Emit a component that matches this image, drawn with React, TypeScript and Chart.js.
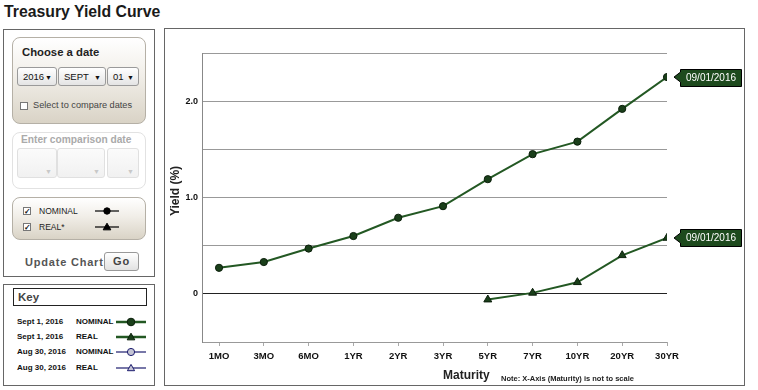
import React, { useEffect, useRef } from "react";
import { Chart, registerables } from "chart.js";

Chart.register(...registerables);

const MATURITIES = ["1MO", "3MO", "6MO", "1YR", "2YR", "3YR", "5YR", "7YR", "10YR", "20YR", "30YR"];
const NOMINAL_YIELDS: (number | null)[] = [0.27, 0.33, 0.47, 0.6, 0.79, 0.91, 1.19, 1.45, 1.58, 1.92, 2.25];
const REAL_YIELDS: (number | null)[] = [null, null, null, null, null, null, -0.06, 0.01, 0.12, 0.4, 0.58];
const Y_MIN = -0.5;
const Y_MAX = 2.5;
const Y_STEP = 0.5;
const Y_TICK_LABELS: Record<string, string> = { "2": "2.0", "1": "1.0", "0": "0" };
const TAG_LABEL = "09/01/2016";
const KEY_DATES = ["Sept 1, 2016", "Sept 1, 2016", "Aug 30, 2016", "Aug 30, 2016"];
const KEY_TYPES = ["NOMINAL", "REAL", "NOMINAL", "REAL"];

const FONT = "'Liberation Sans', Arial, sans-serif";
const GREEN = "#235823";
const GREEN_DARK = "#1a3f1a";

const toPoints = (arr: (number | null)[]) =>
  arr.map((v, i) => ({ x: i, y: v })).filter((p) => p.y !== null) as { x: number; y: number }[];

const tagPlugin = {
  id: "tags",
  afterDatasetsDraw(chart: any) {
    const ctx = chart.ctx;
    chart.data.datasets.forEach((_ds: any, di: number) => {
      const meta = chart.getDatasetMeta(di);
      const el = meta.data[meta.data.length - 1];
      if (!el) return;
      const x = el.x;
      const y = el.y;
      const bx = Math.round(x + 13) + 0.5;
      const bw = 61;
      const bh = 17;
      const by = Math.round(y - 8.5) + 0.5;
      ctx.save();
      ctx.beginPath();
      ctx.moveTo(x + 7, y);
      ctx.lineTo(bx, y - 5);
      ctx.lineTo(bx, by);
      ctx.lineTo(bx + bw, by);
      ctx.lineTo(bx + bw, by + bh);
      ctx.lineTo(bx, by + bh);
      ctx.lineTo(bx, y + 5);
      ctx.closePath();
      ctx.fillStyle = "#1d4a1d";
      ctx.fill();
      ctx.lineWidth = 1;
      ctx.strokeStyle = "#000";
      ctx.stroke();
      ctx.fillStyle = "#fff";
      ctx.font = `10px ${FONT}`;
      ctx.textAlign = "center";
      ctx.textBaseline = "middle";
      ctx.fillText(TAG_LABEL, bx + bw / 2, by + bh / 2 + 0.5);
      ctx.restore();
    });
  },
};

function YieldChart() {
  const ref = useRef<HTMLCanvasElement | null>(null);
  useEffect(() => {
    if (!ref.current) return;
    const chart = new Chart(ref.current, {
      type: "line",
      data: {
        datasets: [
          {
            label: "NOMINAL",
            data: toPoints(NOMINAL_YIELDS),
            borderColor: GREEN,
            borderWidth: 2,
            backgroundColor: GREEN_DARK,
            pointBackgroundColor: GREEN_DARK,
            pointBorderColor: "#0b1f0b",
            pointBorderWidth: 1,
            pointStyle: "circle",
            pointRadius: 3.6,
            tension: 0,
          },
          {
            label: "REAL",
            data: toPoints(REAL_YIELDS),
            borderColor: GREEN,
            borderWidth: 2,
            backgroundColor: GREEN_DARK,
            pointBackgroundColor: GREEN_DARK,
            pointBorderColor: "#0b1f0b",
            pointBorderWidth: 1,
            pointStyle: "triangle",
            pointRadius: 4.6,
            tension: 0,
          },
        ],
      },
      options: {
        animation: false,
        responsive: false,
        events: [],
        layout: { padding: { top: 24, right: 77, left: 0, bottom: 0 } },
        plugins: { legend: { display: false }, tooltip: { enabled: false } },
        scales: {
          x: {
            type: "linear",
            min: -0.38,
            max: MATURITIES.length - 1,
            afterBuildTicks: (scale: any) => {
              scale.ticks = MATURITIES.map((_, i) => ({ value: i }));
            },
            afterFit: (scale: any) => {
              scale.height = 43;
            },
            grid: { drawOnChartArea: false, drawTicks: true, tickLength: 4, color: "#aaa" },
            border: { display: false },
            ticks: {
              padding: 5,
              color: "#111",
              font: { family: FONT, size: 9.5, weight: "bold" },
              maxRotation: 0,
              autoSkip: false,
              callback: (v: any) => MATURITIES[v as number] ?? "",
            },
          },
          y: {
            min: Y_MIN,
            max: Y_MAX,
            afterFit: (scale: any) => {
              scale.width = 37;
            },
            grid: {
              drawTicks: false,
              color: (c: any) => (c.tick && c.tick.value === 0 ? "#222" : "#999"),
            },
            border: { color: "#888" },
            ticks: {
              stepSize: Y_STEP,
              padding: 4,
              color: "#111",
              font: { family: FONT, size: 9, weight: "bold" },
              callback: (v: any) => Y_TICK_LABELS[String(v)] ?? "",
            },
          },
        },
      } as any,
      plugins: [tagPlugin],
    });
    return () => chart.destroy();
  }, []);
  return <canvas ref={ref} width={579} height={356} style={{ position: "absolute", left: 0, top: 0 }} />;
}

const abs = (s: React.CSSProperties): React.CSSProperties => ({ position: "absolute", ...s });

function Sel(props: { left: number; top: number; width: number; height: number; text?: string; disabled?: boolean }) {
  const { left, top, width, height, text, disabled } = props;
  return (
    <div
      style={abs({
        left,
        top,
        width,
        height,
        boxSizing: "border-box",
        border: `1px solid ${disabled ? "#e0e0e0" : "#9a9a9a"}`,
        borderRadius: 3,
        background: disabled ? "linear-gradient(#fbfbfb,#f1f1f1)" : "linear-gradient(#ffffff,#e4e4e4)",
        fontSize: 9.5,
        lineHeight: `${height - 2}px`,
        paddingLeft: 5,
        color: "#111",
      })}
    >
      {text}
      <span style={abs({ right: 4, top: disabled ? 9 : 1, fontSize: 7, color: disabled ? "#c8c8c8" : "#111" })}>▼</span>
    </div>
  );
}

function CheckBox(props: { left: number; top: number; checked?: boolean }) {
  return (
    <div
      style={abs({
        left: props.left,
        top: props.top,
        width: 8,
        height: 8,
        boxSizing: "border-box",
        border: "1px solid #777",
        background: "#fff",
        fontSize: 8,
        lineHeight: "7px",
        textAlign: "center",
        color: "#111",
        fontWeight: "bold",
      })}
    >
      {props.checked ? "✓" : ""}
    </div>
  );
}

function Marker(props: { left: number; top: number; width: number; kind: "circle" | "triangle"; line: string; fill: string; stroke: string; lw: number; r: number }) {
  const { left, top, width, kind, line, fill, stroke, lw, r } = props;
  const cx = width / 2;
  const cy = 6;
  return (
    <svg style={abs({ left, top: top - 6 })} width={width} height={12}>
      <line x1={0} y1={cy} x2={width} y2={cy} stroke={line} strokeWidth={lw} />
      {kind === "circle" ? (
        <circle cx={cx} cy={cy} r={r} fill={fill} stroke={stroke} strokeWidth={1} />
      ) : (
        <polygon points={`${cx},${cy - r} ${cx + r},${cy + r * 0.75} ${cx - r},${cy + r * 0.75}`} fill={fill} stroke={stroke} strokeWidth={1} />
      )}
    </svg>
  );
}

export default function App() {
  const panelGrad = "linear-gradient(#ffffff 0%, #f1eee8 45%, #d9d3c6 100%)";
  return (
    <div style={{ position: "fixed", left: 0, top: 0, width: 758, height: 390, background: "#fff", fontFamily: FONT, overflow: "hidden" }}>
      <div style={abs({ left: 4, top: 0, fontSize: 15.8, lineHeight: "23px", fontWeight: "bold", color: "#1a1a1a" })}>Treasury Yield Curve</div>

      {/* Left control panel */}
      <div style={abs({ left: 3, top: 29, width: 152, height: 248, boxSizing: "border-box", border: "1px solid #666" })} />
      <div style={abs({ left: 12, top: 37, width: 134, height: 87, boxSizing: "border-box", border: "1px solid #b5b0a6", borderRadius: 8, background: panelGrad })} />
      <div style={abs({ left: 22, top: 44, fontSize: 11.3, lineHeight: "16px", fontWeight: "bold", color: "#222" })}>Choose a date</div>
      <Sel left={17} top={67} width={40} height={19} text="2016" />
      <Sel left={58} top={67} width={48} height={19} text="SEPT" />
      <Sel left={107} top={67} width={32} height={19} text="01" />
      <CheckBox left={20} top={102} />
      <div style={abs({ left: 33, top: 99, fontSize: 9.2, lineHeight: "12px", color: "#444" })}>Select to compare dates</div>

      <div style={abs({ left: 12, top: 132, width: 134, height: 57, boxSizing: "border-box", border: "1px solid #e2e2e2", borderRadius: 8, background: "#fff" })} />
      <div style={abs({ left: 21, top: 133, fontSize: 10.2, lineHeight: "14px", fontWeight: "bold", color: "#aaa", whiteSpace: "nowrap" })}>Enter comparison date</div>
      <Sel left={17} top={148} width={40} height={30} disabled />
      <Sel left={57} top={148} width={48} height={30} disabled />
      <Sel left={107} top={148} width={32} height={30} disabled />

      <div style={abs({ left: 12, top: 197, width: 134, height: 43, boxSizing: "border-box", border: "1px solid #b5b0a6", borderRadius: 8, background: panelGrad })} />
      <CheckBox left={23} top={207} checked />
      <div style={abs({ left: 39, top: 205, fontSize: 8.5, lineHeight: "12px", color: "#222" })}>NOMINAL</div>
      <Marker left={95} top={211} width={24} kind="circle" line="#000" fill="#000" stroke="#000" lw={1.2} r={3.2} />
      <CheckBox left={23} top={223} checked />
      <div style={abs({ left: 39, top: 221, fontSize: 8.5, lineHeight: "12px", color: "#222" })}>REAL*</div>
      <Marker left={95} top={227} width={24} kind="triangle" line="#000" fill="#000" stroke="#000" lw={1.2} r={3.8} />

      <div style={abs({ left: 25, top: 255, fontSize: 11, lineHeight: "14px", fontWeight: "bold", color: "#555", letterSpacing: 0.8 })}>Update Chart</div>
      <div
        style={abs({
          left: 104,
          top: 252,
          width: 35,
          height: 19,
          boxSizing: "border-box",
          border: "1px solid #999",
          borderRadius: 3,
          background: "linear-gradient(#ffffff,#e2e2e2)",
          fontSize: 11,
          lineHeight: "17px",
          textAlign: "center",
          fontWeight: "bold",
          color: "#444",
          letterSpacing: 0.8,
        })}
      >
        Go
      </div>

      {/* Key */}
      <div style={abs({ left: 3, top: 284, width: 152, height: 102, boxSizing: "border-box", border: "1px solid #666" })} />
      <div style={abs({ left: 13, top: 288, width: 134, height: 18, boxSizing: "border-box", border: "1px solid #222" })} />
      <div style={abs({ left: 18, top: 290, fontSize: 11.5, lineHeight: "14px", fontWeight: "bold", color: "#444" })}>Key</div>
      {KEY_DATES.map((d, i) => {
        const cy = [322, 337, 352, 368][i];
        const sept = i < 2;
        return (
          <React.Fragment key={i}>
            <div style={abs({ left: 17, top: cy - 5, fontSize: 8, lineHeight: "10px", fontWeight: "bold", color: "#111" })}>{d}</div>
            <div style={abs({ left: 76, top: cy - 5, fontSize: 8, lineHeight: "10px", fontWeight: "bold", color: "#111" })}>{KEY_TYPES[i]}</div>
            <Marker
              left={116}
              top={cy}
              width={30}
              kind={i % 2 === 0 ? "circle" : "triangle"}
              line={sept ? GREEN : "#1c1c6e"}
              fill={sept ? GREEN_DARK : "#c4c4d4"}
              stroke={sept ? "#0b1f0b" : "#1c1c6e"}
              lw={sept ? 2.5 : 1.2}
              r={sept ? 3.8 : 3.6}
            />
          </React.Fragment>
        );
      })}

      {/* Chart box */}
      <div style={abs({ left: 164, top: 28, width: 581, height: 358, boxSizing: "border-box", border: "1px solid #666" })}>
        <div style={abs({ left: 0, top: 0, width: 579, height: 356 })}>
          <YieldChart />
        </div>
      </div>
      <div
        style={abs({
          left: 175 - 40,
          top: 191 - 8,
          width: 80,
          height: 16,
          lineHeight: "16px",
          textAlign: "center",
          fontSize: 12,
          fontWeight: "bold",
          color: "#222",
          transform: "rotate(-90deg)",
        })}
      >
        Yield (%)
      </div>
      <div style={abs({ left: 443, top: 368, fontSize: 12, lineHeight: "15px", fontWeight: "bold", color: "#222" })}>Maturity</div>
      <div style={abs({ left: 501, top: 374, fontSize: 7.5, lineHeight: "10px", fontWeight: "bold", color: "#222" })}>Note: X-Axis (Maturity) is not to scale</div>
    </div>
  );
}
